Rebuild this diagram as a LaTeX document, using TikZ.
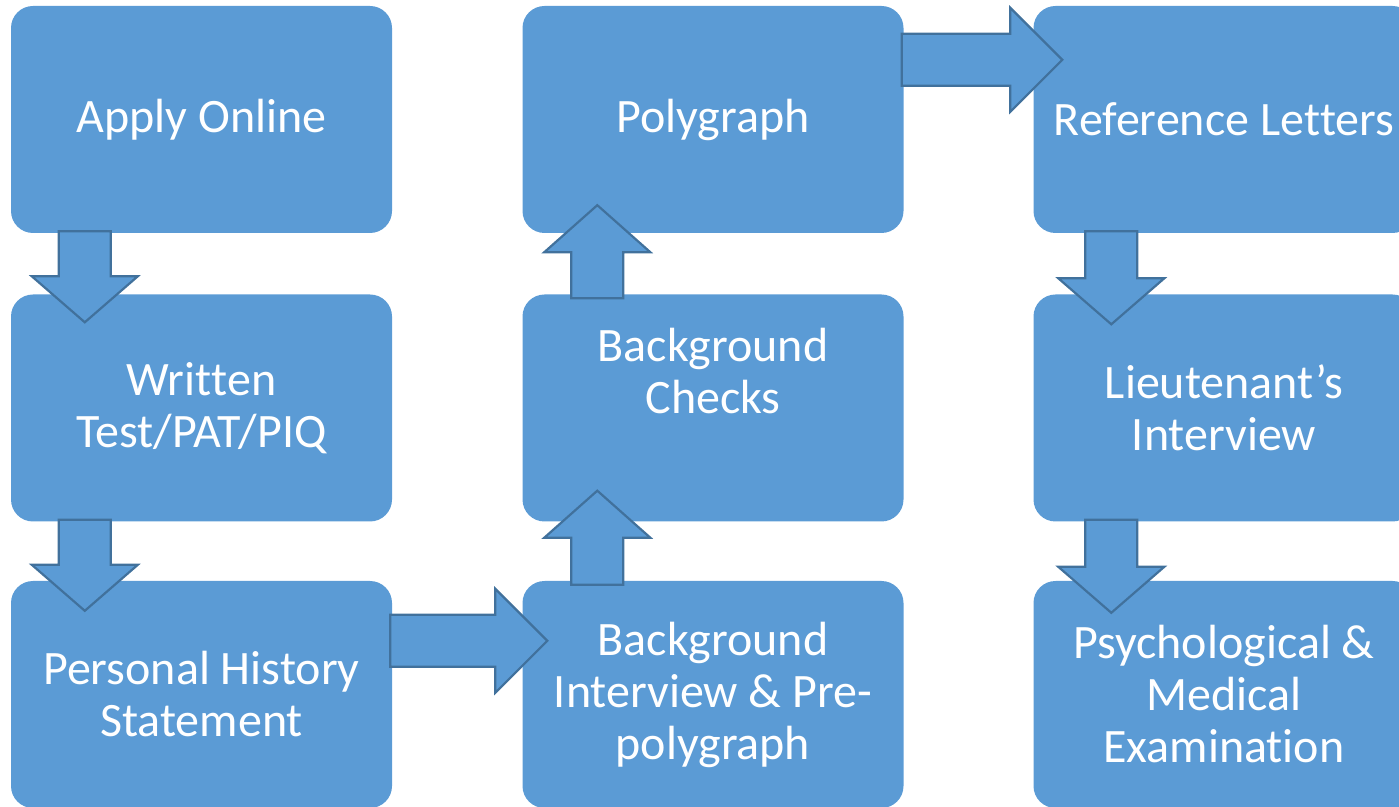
\documentclass[tikz,border=0pt]{standalone}
\usepackage{fontspec}
\setmainfont[Ligatures={NoCommon,NoRare,NoContextual},Contextuals=NoAlternate,RawFeature={-liga;-clig;-calt}]{Carlito}
\usetikzlibrary{calc}
\definecolor{boxblue}{HTML}{5B9BD5}
\definecolor{edgeblue}{HTML}{41719C}
\tikzset{
  box/.style={fill=boxblue, draw=none, rounded corners=22pt, minimum width=381pt, minimum height=227pt,
    inner sep=0pt, text=white, align=center, font=\fontsize{48}{52}\selectfont},
  txt/.style={text=white, align=center, font=\fontsize{48}{52}\selectfont, inner sep=0pt},
  blk/.style={fill=boxblue, draw=edgeblue, line width=2.2pt, line join=miter}
}
% down block arrow: from, to, x offset from west edge of "from", tip depth into "to"
\newcommand\arrdown[4]{%
  \draw[blk] let \p1=(#1.south west), \p2=(#2.north) in
    (\x1+#3pt-26pt,\y1+2pt) -- (\x1+#3pt+26pt,\y1+2pt) -- (\x1+#3pt+26pt,\y2-#4pt+46pt)
    -- (\x1+#3pt+53pt,\y2-#4pt+46pt) -- (\x1+#3pt,\y2-#4pt) -- (\x1+#3pt-53pt,\y2-#4pt+46pt)
    -- (\x1+#3pt-26pt,\y2-#4pt+46pt) -- cycle;}
% up block arrow
\newcommand\arrup[4]{%
  \draw[blk] let \p1=(#1.north west), \p2=(#2.south) in
    (\x1+#3pt-26pt,\y1-4pt) -- (\x1+#3pt+26pt,\y1-4pt) -- (\x1+#3pt+26pt,\y2+#4pt-47pt)
    -- (\x1+#3pt+53pt,\y2+#4pt-47pt) -- (\x1+#3pt,\y2+#4pt) -- (\x1+#3pt-53pt,\y2+#4pt-47pt)
    -- (\x1+#3pt-26pt,\y2+#4pt-47pt) -- cycle;}
% right block arrow: from, to, y offset below top of "from", tip depth into "to"
\newcommand\arrright[4]{%
  \draw[blk] let \p1=(#1.north east), \p2=(#2.west) in
    (\x1-2pt,\y1-#3pt+26pt) -- (\x1-2pt,\y1-#3pt-26pt) -- (\x2+#4pt-52pt,\y1-#3pt-26pt)
    -- (\x2+#4pt-52pt,\y1-#3pt-52pt) -- (\x2+#4pt,\y1-#3pt) -- (\x2+#4pt-52pt,\y1-#3pt+52pt)
    -- (\x2+#4pt-52pt,\y1-#3pt+26pt) -- cycle;}
\begin{document}
\begin{tikzpicture}[x=1pt,y=1pt]
\useasboundingbox (0,0) rectangle (1399,806);
% column 1
\node[box] (apply) at (201.5,686.5) {Apply Online};
\node[box] (written) at (201.5,398) {Writ\kern0pt ten\\Test/PAT/PIQ};
\node[box] (personal) at (201.5,111.5) {Personal History\\Statement};
% column 2
\node[box] (poly) at (713,686.5) {Polygraph};
\node[box] (checks) at (713,398) {};
\node[txt] (checkstxt) at ($(checks.center)+(0,37)$) {Background\\Checks};
\node[box] (interview) at (713,111.5) {Background\\Interview \& Pre-\\polygraph};
% column 3
\node[box] (refs) at (1224,686.5) {Reference Let\kern0pt ters};
\node[box] (lieut) at (1224,398) {Lieutenant’s\\Interview};
\node[box] (psych) at (1224,111.5) {Psychological \&\\Medical\\Examination};
% arrows
\arrdown{apply}{written}{74}{28}
\arrdown{written}{personal}{74}{30}
\arrright{personal}{interview}{60}{25}
\arrup{interview}{checks}{75}{31}
\arrup{checks}{poly}{75}{28}
\arrright{poly}{refs}{54}{29}
\arrdown{refs}{lieut}{78}{30}
\arrdown{lieut}{psych}{78}{32}
\end{tikzpicture}
\end{document}
